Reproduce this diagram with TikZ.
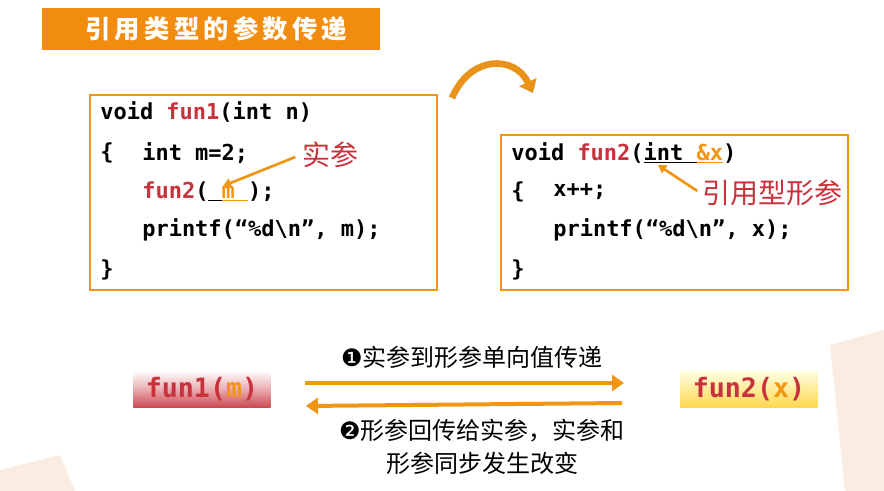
\documentclass[tikz,border=0pt]{standalone}
\usepackage{fontspec}
\setmonofont{DejaVu Sans Mono}
\newfontfamily\cjk{Noto Sans CJK SC}
\newfontfamily\dejavu{DejaVu Sans}
\usetikzlibrary{positioning, arrows.meta}
\definecolor{codered}{RGB}{200,50,60}
\definecolor{argorange}{RGB}{240,150,20}
\definecolor{titlebar}{RGB}{242,140,15}
\definecolor{decor}{RGB}{250,236,225}

\tikzset{
  codebox/.style={draw=argorange, line width=0.8pt, fill=white},
  codeline/.style={anchor=west, font=\ttfamily\bfseries\fontsize{16.5}{19}\selectfont, inner sep=0pt},
  note/.style={font=\cjk\fontsize{21}{24}\selectfont, text=codered},
  steptext/.style={font=\cjk\fontsize{18}{25}\selectfont},
  pass/.style={draw=argorange, line width=3pt, -{Triangle[length=9pt,width=12pt]}},
  callbox/.style={minimum width=103pt, minimum height=28pt, font=\ttfamily\bfseries\fontsize{20}{22}\selectfont, text=codered}
}

\begin{document}
\begin{tikzpicture}[x=0.75pt, y=-0.75pt]
    \useasboundingbox (0,0) rectangle (884,491);

    % background decoration
    \fill[decor] (830,345) -- (884,330) -- (884,491) -- (845,491) -- cycle;
    \fill[decor] (0,470) -- (60,455) -- (75,491) -- (0,491) -- cycle;

    % title
    \node (title) [fill=titlebar, minimum width=253pt, minimum height=31pt, font=\cjk\bfseries\fontsize{19}{22}\selectfont, text=white] at (211,29) {\hspace{8pt}引\,用\,类\,型\,的\,参\,数\,传\,递};

    % the two functions
    \draw[codebox] (90,95) rectangle (437,290);
    \draw[codebox] (501,135) rectangle (848,290);

    \node (l1) [codeline] at (100,112) {void \textcolor{codered}{fun1}(int n)};
    \node (l2a) [codeline] at (100,153) {\{};
    \node (l2) [codeline] at (142,153) {int m=2;};
    \node (l3) [codeline] at (142,192) {\textcolor{codered}{fun2}(\underline{\ }\textcolor{argorange}{\underline{m\ }});};
    \node (l4) [codeline] at (142,230) {printf(“\%d\textbackslash n”, m);};
    \node (l5) [codeline] at (100,270) {\}};

    \node (r1) [codeline] at (511,153) {void \textcolor{codered}{fun2}(\underline{int }\textcolor{argorange}{\underline{\&x}})};
    \node (r2a) [codeline] at (511,192) {\{};
    \node (r2) [codeline] at (553,192) {x++;};
    \node (r3) [codeline] at (553,230) {printf(“\%d\textbackslash n”, x);};
    \node (r4) [codeline] at (511,270) {\}};

    \node (actual) [note] at (330,155) {实参};
    \node (formal) [note] at (772,193) {引用型形参};
    \draw[argorange, line width=2pt, -{Triangle[length=6pt,width=7pt]}] (actual.west) ++(-2,2) -- (223,186);
    \draw[argorange, line width=2pt, -{Triangle[length=6pt,width=7pt]}] (formal.west) ++(0,-2) -- (658,165);

    % curved arrow between boxes
    \draw[argorange!85!brown, line width=5pt, -{Triangle[length=9pt,width=14pt]}] (452,98) .. controls (470,55) and (515,55) .. (533,93);

    % calls
    \node (caller) [callbox, top color=white, bottom color=codered!90, middle color=codered!40] at (202,389) {fun1(\textcolor{argorange}{m})};
    \node (callee) [callbox, top color=yellow!10, bottom color=yellow!55!orange!70] at (749,389) {fun2(\textcolor{argorange}{x})};

    \coordinate (fwdA) at (305,383);
    \coordinate (fwdB) at (624,383);
    \coordinate (backA) at (622,403);
    \coordinate (backB) at (306,406);
    \draw[pass] (fwdA) -- (fwdB);
    \draw[pass] (backA) -- (backB);

    \node (step1) [steptext] at (472,357) {{\dejavu ❶}实参到形参单向值传递};
    \node (step2) [steptext, align=center] at (482,447) {{\dejavu ❷}形参回传给实参，实参和\\形参同步发生改变};
\end{tikzpicture}
\end{document}
